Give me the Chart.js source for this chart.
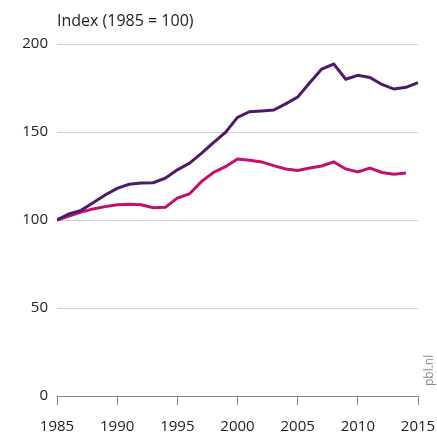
<!DOCTYPE html>
<html lang="nl">
<head>
<meta charset="UTF-8">
<title>Index (1985 = 100)</title>
<script src="https://cdn.jsdelivr.net/npm/chart.js"></script>
<style>
    html, body { margin: 0; padding: 0; background: #fff; }
    .wrap { position: relative; width: 437px; height: 436px; }
</style>
</head>
<body>
<div class="wrap"><canvas id="chart" width="437" height="436"></canvas></div>
<script>
    const years = [1985, 1986, 1987, 1988, 1989, 1990, 1991, 1992, 1993, 1994, 1995, 1996, 1997, 1998, 1999,
        2000, 2001, 2002, 2003, 2004, 2005, 2006, 2007, 2008, 2009, 2010, 2011, 2012, 2013, 2014, 2015];
    const seriesPurple = [100, 103.5, 105.5, 109.8, 114.2, 118, 120.3, 121, 121.2, 123.8, 128.5, 132.2, 137.9, 143.9, 149.8,
        158.3, 161.5, 162, 162.5, 166, 169.8, 178, 185.8, 188.6, 180, 182.2, 181, 177, 174.4, 175.4, 178];
    const seriesMagenta = [100, 102.2, 104.5, 106.3, 107.6, 108.6, 108.9, 108.7, 107, 107.2, 112.5, 114.8, 121.8, 127, 130.3,
        134.7, 133.9, 133, 130.9, 129, 128.2, 129.5, 130.7, 133, 129, 127.3, 129.5, 127, 126, 126.7, null];
    const yTicks = [0, 50, 100, 150, 200];
    const xTicks = [1985, 1990, 1995, 2000, 2005, 2010, 2015];

    const tickFont = { family: "'Open Sans', sans-serif", size: 15 };

    // title and source text
    const extras = {
        id: 'extras',
        afterDraw(chart) {
            const ctx = chart.ctx;
            ctx.save();
            ctx.fillStyle = '#222';
            ctx.font = "16px 'Open Sans', sans-serif";
            ctx.textBaseline = 'alphabetic';
            ctx.textAlign = 'left';
            ctx.fillText('Index (1985 = 100)', 57, 26);
            ctx.translate(433, 386);
            ctx.rotate(-Math.PI / 2);
            ctx.fillStyle = '#8a8a8a';
            ctx.font = "12px 'Open Sans', sans-serif";
            ctx.fillText('pbl.nl', 0, 0);
            ctx.restore();
        }
    };

    new Chart(document.getElementById('chart'), {
        type: 'line',
        data: {
            labels: years,
            datasets: [{
                data: years.map((y, i) => ({ x: y, y: seriesPurple[i] })),
                borderColor: '#4b1a6a',
                borderWidth: 3,
                pointRadius: 0,
                tension: 0
            }, {
                data: years.map((y, i) => ({ x: y, y: seriesMagenta[i] })),
                borderColor: '#c40f6f',
                borderWidth: 3,
                pointRadius: 0,
                tension: 0,
                spanGaps: false
            }]
        },
        options: {
            responsive: false,
            animation: false,
            layout: { padding: { top: 44, right: 19, bottom: 0, left: 0 } },
            plugins: { legend: { display: false }, tooltip: { enabled: false } },
            scales: {
                x: {
                    type: 'linear',
                    min: 1985,
                    max: 2015,
                    afterBuildTicks: (axis) => { axis.ticks = xTicks.map(v => ({ value: v })); },
                    afterFit: (axis) => { axis.height = 40; axis.paddingLeft = 0; axis.paddingRight = 0; },
                    grid: { drawOnChartArea: false, drawTicks: true, tickLength: 9, color: '#888', lineWidth: 1 },
                    border: { display: true, color: '#888', width: 1 },
                    ticks: { color: '#222', font: tickFont, padding: 13, maxRotation: 0, callback: v => String(v) }
                },
                y: {
                    min: 0,
                    max: 200,
                    afterBuildTicks: (axis) => { axis.ticks = yTicks.map(v => ({ value: v })); },
                    afterFit: (axis) => { axis.width = 57; },
                    grid: {
                        drawTicks: false,
                        color: (c) => c.tick && c.tick.value === 0 ? 'rgba(0,0,0,0)' : '#cccccc',
                        lineWidth: 1
                    },
                    border: { display: false },
                    ticks: { color: '#222', font: tickFont, padding: 9 }
                }
            }
        },
        plugins: [extras]
    });
</script>
</body>
</html>
